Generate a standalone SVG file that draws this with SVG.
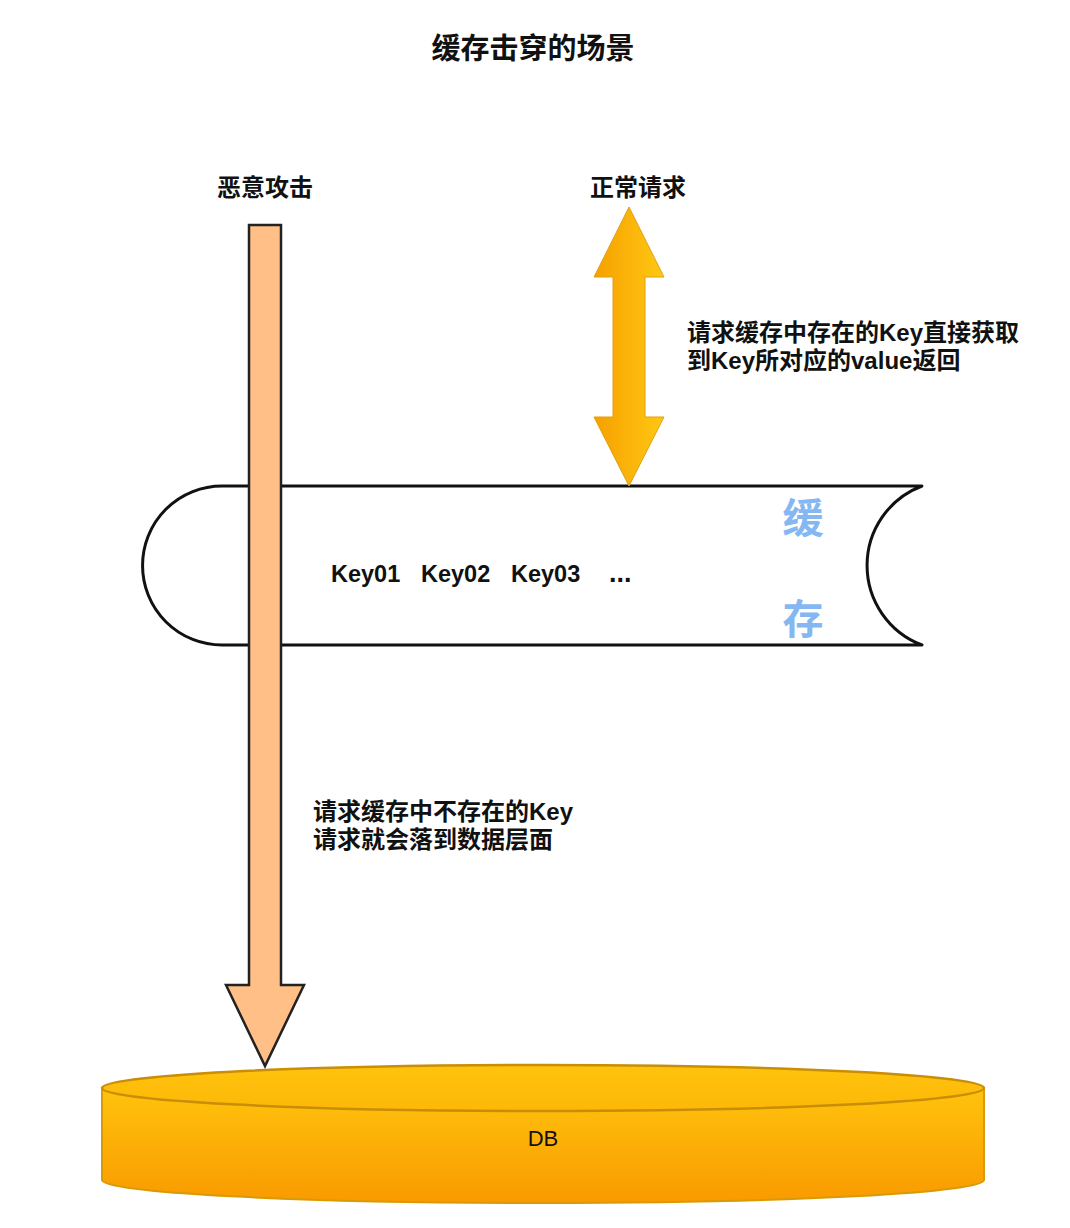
<svg xmlns="http://www.w3.org/2000/svg" width="1070" height="1228" viewBox="0 0 1070 1228">
  <defs>
    <linearGradient id="dbGrad" x1="0" y1="0" x2="0" y2="1">
      <stop offset="0" stop-color="#FFC30D"/>
      <stop offset="1" stop-color="#F99A00"/>
    </linearGradient>
    <linearGradient id="dbTop" x1="0" y1="0" x2="0" y2="1">
      <stop offset="0" stop-color="#FFC30D"/>
      <stop offset="1" stop-color="#FDB708"/>
    </linearGradient>
    <linearGradient id="arrGrad" x1="0" y1="0" x2="1" y2="0">
      <stop offset="0" stop-color="#F6A000"/>
      <stop offset="1" stop-color="#FFC812"/>
    </linearGradient>
  </defs>
  <style>
    .cjk { font-family: "Liberation Sans", "Noto Sans CJK SC", sans-serif; font-weight: bold; fill: #111; }
    .lbl { font-size: 24px; }
  </style>
  <rect x="0" y="0" width="1070" height="1228" fill="#ffffff"/>

  <text class="cjk" x="533" y="59" font-size="29" text-anchor="middle">缓存击穿的场景</text>

  <g id="cache">
    <path d="M 222 486 L 922 486 A 85 85 0 0 0 922 645 L 222 645 A 79.5 79.5 0 0 1 222 486 Z" fill="#ffffff" stroke="#111" stroke-width="3" stroke-linejoin="round"/>
    <text class="cjk" x="331" y="582" font-size="23.5"><tspan x="331">Key01</tspan><tspan x="421">Key02</tspan><tspan x="511">Key03</tspan><tspan x="609" font-size="27">...</tspan></text>
    <text x="803" y="533" font-size="41" text-anchor="middle" font-family="Liberation Sans, Noto Sans CJK SC, sans-serif" font-weight="bold" fill="#85B8F2">缓</text>
    <text x="803" y="634" font-size="41" text-anchor="middle" font-family="Liberation Sans, Noto Sans CJK SC, sans-serif" font-weight="bold" fill="#85B8F2">存</text>
  </g>

  <g id="db">
    <path d="M 102 1088 L 102 1180 A 441 23 0 0 0 984 1180 L 984 1088 Z" fill="url(#dbGrad)" stroke="#D89A06" stroke-width="2"/>
    <ellipse cx="543" cy="1088" rx="441" ry="23" fill="url(#dbTop)" stroke="#C98E06" stroke-width="2.5"/>
    <text x="543" y="1146" font-size="22" text-anchor="middle" font-family="Liberation Sans, Arial, sans-serif" fill="#111">DB</text>
  </g>

  <g id="connectors">
    <g id="malicious">
      <path d="M 249 225 L 281 225 L 281 985 L 304 985 L 265 1066 L 226 985 L 249 985 Z" fill="#FFBF86" stroke="#222" stroke-width="2.5" stroke-linejoin="miter"/>
    </g>
    <g id="normal">
      <path d="M 629 207 L 664 277 L 645 277 L 645 417 L 664 417 L 629 486 L 594 417 L 613 417 L 613 277 L 594 277 Z" fill="url(#arrGrad)" stroke="#E0A010" stroke-width="1"/>
    </g>
  </g>

  <g id="labels">
    <text class="cjk lbl" x="265" y="196" text-anchor="middle">恶意攻击</text>
    <text class="cjk lbl" x="638" y="196" text-anchor="middle">正常请求</text>
    <text class="cjk lbl" x="687" y="341">请求缓存中存在的Key直接获取</text>
    <text class="cjk lbl" x="687" y="369">到Key所对应的value返回</text>
    <text class="cjk lbl" x="313" y="820">请求缓存中不存在的Key</text>
    <text class="cjk lbl" x="313" y="848">请求就会落到数据层面</text>
  </g>
</svg>
